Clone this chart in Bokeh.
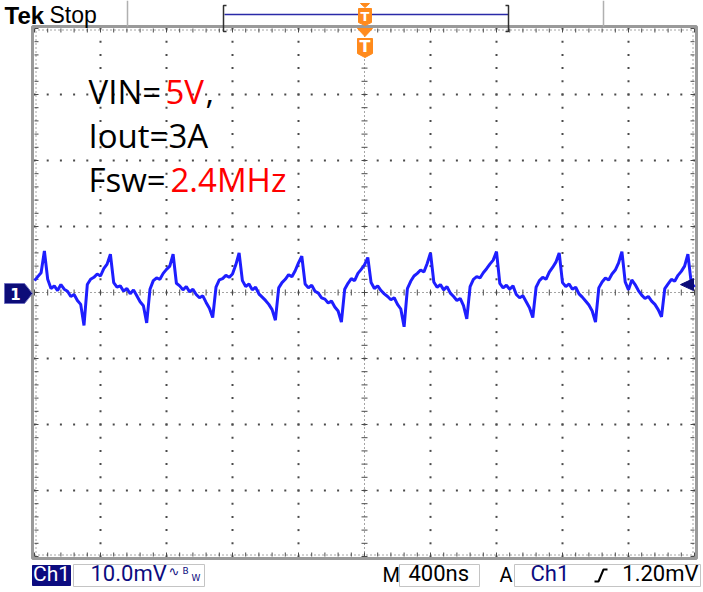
import numpy as np
from bokeh.plotting import figure
from bokeh.models import Range1d
from bokeh.core.properties import value
from bokeh.embed import file_html
from bokeh.resources import INLINE

# ---------------- data ----------------
sample_step_ns = 20
ch1_mv = [
    1.8, 2.4, 3.0, 6.3, 2.0, 0.6, 1.0, 0.3, 1.2, 0.5,
    0.2, -0.6, -0.3, -1.2, -1.8, -5.0, 1.2, 2.0, 2.3, 2.8,
    2.5, 3.6, 4.3, 5.8, 1.5, 0.8, 1.0, 0.2, 0.6, -0.2,
    0.4, -0.5, -1.4, -2.0, -4.6, 0.5, 1.8, 2.2, 2.0, 2.9,
    3.5, 4.0, 5.8, 1.4, 1.0, 0.4, 0.9, 0.1, 0.5, -0.3,
    -0.8, -0.5, -1.5, -2.4, -3.8, 0.8, 1.9, 2.1, 2.6, 2.3,
    2.8, 4.2, 6.0, 1.8, 0.9, 1.3, 0.4, 0.8, -0.2, -0.7,
    -1.2, -1.8, -2.6, -4.2, 0.7, 1.5, 2.0, 2.7, 2.4, 3.3,
    4.5, 5.5, 1.3, 0.7, 1.1, 0.2, -0.1, -0.8, -1.0, -1.6,
    -1.3, -2.2, -2.8, -4.5, 0.5, 1.4, 2.1, 1.8, 2.9, 3.5,
    4.2, 5.3, 1.5, 0.6, 1.0, 0.3, -0.2, -0.6, -1.1, -0.8,
    -1.8, -2.5, -5.2, 0.6, 1.7, 2.5, 2.9, 3.4, 3.1, 4.4,
    6.0, 1.6, 0.8, 1.2, 0.4, 0.9, -0.1, -0.6, -1.2, -0.9,
    -2.0, -4.0, 0.9, 2.0, 2.4, 2.2, 3.0, 3.6, 4.3, 4.9,
    6.2, 1.4, 0.7, 1.1, 0.5, 1.0, -0.3, -0.8, -0.5, -1.4,
    -2.3, -3.8, 0.8, 1.8, 2.3, 2.0, 3.1, 3.8, 4.6, 6.0,
    1.5, 0.9, 1.3, 0.5, 0.8, -0.2, -0.7, -1.3, -1.9, -2.8,
    -4.5, 0.7, 1.6, 2.2, 1.9, 2.8, 3.4, 4.5, 6.2, 1.6,
    0.4, 1.9, 1.2, 0.3, -0.4, -0.9, -0.6, -1.3, -1.8, -2.6,
    -3.7, 0.6, 1.3, 2.0, 1.7, 2.6, 3.2, 4.0, 5.8, 1.5,
    0.8,
]
time_ns = np.arange(len(ch1_mv)) * sample_step_ns - 2000

x_div_ns = [-2000, -1600, -1200, -800, -400, 0, 400, 800, 1200, 1600, 2000]
y_div_mv = [-40, -30, -20, -10, 0, 10, 20, 30, 40]

ch_label = "Ch1"
scale_label = "10.0mV"
time_label = "400ns"
trig_label = "1.20mV"
trig_level_mv = 1.2

annot_vin = [("VIN=", "black"), ("5V", "red"), (",", "black")]
annot_iout = [("Iout=3A", "black")]
annot_fsw = [("Fsw=", "black"), ("2.4MHz", "red")]

# ---------------- geometry ----------------
W, H = 703, 592
GX0, GY0 = 34, 28          # graticule top-left on the page (px)
GW, GH = 660, 528          # graticule size (px)
T0, T1 = x_div_ns[0], x_div_ns[-1]
V0, V1 = y_div_mv[0], y_div_mv[-1]
sx = GW / (T1 - T0)        # px per ns
sy = GH / (V1 - V0)        # px per mV

p = figure(width=W, height=H, output_backend="svg", toolbar_location=None,
           x_range=Range1d(T0 - GX0 / sx, T0 + (W - GX0) / sx),
           y_range=Range1d(V1 - (H - GY0) / sy, V1 + GY0 / sy),
           min_border=0, x_axis_location=None, y_axis_location=None,
           background_fill_color="white", border_fill_color="white",
           outline_line_color=None)
p.xgrid.visible = False
p.ygrid.visible = False


def X(px):  # page pixel -> ns
    return T0 + (px - GX0) / sx


def Y(py):  # page pixel -> mV
    return V1 - (py - GY0) / sy


def txt(x, y, s, color, size, font="Roboto", style="normal", align="left", baseline="alphabetic"):
    if baseline == "alphabetic":
        y = y - 0.39 * size
    p.text(x=[X(x)], y=[Y(y)], text=[s], text_color=color, text_font=value(font),
           text_font_size=f"{size}px", text_font_style=style,
           text_align=align, text_baseline=baseline)


dot_col = "#4a4a4a"

# graticule dots on inner division lines (every 1/5 division)
fifth_t = np.arange(T0, T1 + 1, (x_div_ns[1] - x_div_ns[0]) / 5)
fifth_v = np.arange(V0, V1 + 0.01, (y_div_mv[1] - y_div_mv[0]) / 5)
gx, gy = [], []
for t in x_div_ns[1:-1]:
    if t == 0:
        continue
    gx += [t] * len(fifth_v)
    gy += list(fifth_v)
for v in y_div_mv[1:-1]:
    if v == 0:
        continue
    gx += list(fifth_t)
    gy += [v] * len(fifth_t)
p.scatter(gx, gy, marker="square", size=2, fill_color=dot_col, line_color=None)

# center cross: fine dotted lines with tick marks
p.line([0, 0], [V0, V1], line_color=dot_col, line_width=1, line_dash="1 3")
p.line([T0, T1], [0, 0], line_color=dot_col, line_width=1, line_dash="1 3")
tl = 3
p.segment(x0=list(fifth_t), y0=[-tl / sy] * len(fifth_t), x1=list(fifth_t), y1=[tl / sy] * len(fifth_t),
          line_color=dot_col, line_width=1)
p.segment(x0=[-tl / sx] * len(fifth_v), y0=list(fifth_v), x1=[tl / sx] * len(fifth_v), y1=list(fifth_v),
          line_color=dot_col, line_width=1)

# ruler along the edges
el = 4
ex0 = list(fifth_t) + list(fifth_t) + [T0] * len(fifth_v) + [T1] * len(fifth_v)
ey0 = [V1] * len(fifth_t) + [V0] * len(fifth_t) + list(fifth_v) + list(fifth_v)
ex1 = list(fifth_t) + list(fifth_t) + [T0 + el / sx] * len(fifth_v) + [T1 - el / sx] * len(fifth_v)
ey1 = [V1 - el / sy] * len(fifth_t) + [V0 + el / sy] * len(fifth_t) + list(fifth_v) + list(fifth_v)
p.segment(x0=ex0, y0=ey0, x1=ex1, y1=ey1, line_color=dot_col, line_width=1)
p.line([T0, T1], [V1 - 1.5 / sy] * 2, line_color=dot_col, line_width=1, line_dash="1 3")
p.line([T0, T1], [V0 + 1.5 / sy] * 2, line_color=dot_col, line_width=1, line_dash="1 3")
p.line([T0 + 1.5 / sx] * 2, [V0, V1], line_color=dot_col, line_width=1, line_dash="1 3")
p.line([T1 - 1.5 / sx] * 2, [V0, V1], line_color=dot_col, line_width=1, line_dash="1 3")

# gray frame
p.quad(left=[T0 - 2 / sx], right=[T1 + 2 / sx], top=[V1 + 2 / sy], bottom=[V0 - 2 / sy],
       fill_color=None, line_color="#9a9a9a", line_width=3)

# waveform
p.line(time_ns, ch1_mv, line_color="#1e1eff", line_width=3)

# channel 1 marker
p.patch([X(4), X(24), X(32), X(24), X(4)], [Y(283), Y(283), Y(293), Y(303), Y(303)],
        fill_color="#0c0c78", line_color="#7070c0", line_width=1)
txt(15, 293, "1", "white", 15, font="DejaVu Sans", style="bold", align="center", baseline="middle")

# trigger level arrow (right edge)
p.patch([X(680), X(693), X(693)], [trig_level_mv, trig_level_mv + 6 / sy, trig_level_mv - 6 / sy],
        fill_color="#0c0c78", line_color="#0c0c78")

# trigger position marker inside graticule
orange = "#ff8a1c"
p.patch([X(357), X(372), X(364.5)], [Y(28), Y(28), Y(36)], fill_color=orange, line_color=orange)
p.patch([X(357), X(372), X(372), X(364.5), X(357)], [Y(38), Y(38), Y(53), Y(57), Y(53)],
        fill_color=orange, line_color=orange)
txt(364.5, 46, "T", "white", 16, font="DejaVu Sans", style="bold", align="center", baseline="middle")

# top bar
txt(4, 24, "Tek", "black", 24, font="Liberation Sans", style="bold")
txt(49, 23, "Stop", "black", 23, font="Liberation Sans")
p.segment(x0=[X(127), X(603)], y0=[Y(0), Y(0)], x1=[X(127), X(603)], y1=[Y(26), Y(26)],
          line_color="#b0b0b0", line_width=1.5)
p.segment(x0=[X(224)], y0=[Y(14)], x1=[X(508)], y1=[Y(14)], line_color="#2a2aa8", line_width=1.5)
br = "#303030"
p.multi_line([[X(226), X(223), X(223), X(226)], [X(505), X(508), X(508), X(505)]],
             [[Y(5), Y(5), Y(31), Y(31)], [Y(5), Y(5), Y(31), Y(31)]], line_color=br, line_width=1.5)
p.patch([X(360), X(369), X(364.5)], [Y(3), Y(3), Y(7)], fill_color=orange, line_color=orange)
p.patch([X(358), X(371), X(371), X(364.5), X(358)], [Y(8), Y(8), Y(22), Y(25), Y(22)],
        fill_color=orange, line_color=orange)
txt(364.5, 16, "T", "white", 13, font="DejaVu Sans", style="bold", align="center", baseline="middle")

# annotations
txt(88, 104, annot_vin[0][0], annot_vin[0][1], 33, font="Open Sans")
txt(165, 104, annot_vin[1][0], annot_vin[1][1], 33, font="Open Sans")
txt(205, 104, annot_vin[2][0], annot_vin[2][1], 33, font="Open Sans")
txt(88, 148, annot_iout[0][0], annot_iout[0][1], 33, font="Open Sans")
txt(88, 192, annot_fsw[0][0], annot_fsw[0][1], 33, font="Open Sans")
txt(170, 192, annot_fsw[1][0], annot_fsw[1][1], 33, font="Open Sans")

# status bar
navy = "#0c0c80"
p.quad(left=[X(32)], right=[X(70)], top=[Y(565)], bottom=[Y(585)], fill_color=navy, line_color=navy)
txt(51, 582, ch_label, "white", 21, align="center")
box_col = "#c4c4c4"
p.quad(left=[X(73), X(399), X(514)], right=[X(204), X(479), X(700)],
       top=[Y(564)] * 3, bottom=[Y(586)] * 3, fill_color=None, line_color=box_col, line_width=1)
txt(90, 582, scale_label, navy, 22)
txt(168, 576, "\u223f", navy, 13, font="DejaVu Sans")
txt(182, 574, "B", navy, 9, font="DejaVu Sans")
txt(191, 581, "W", navy, 9, font="DejaVu Sans")
txt(382, 582, "M", "black", 20)
txt(408, 582, time_label, "black", 22)
txt(499, 582, "A", "black", 20)
txt(530, 582, ch_label, navy, 22)
p.line([X(594), X(598), X(603), X(607)], [Y(581), Y(581), Y(569), Y(569)], line_color="black", line_width=2)
txt(698, 582, trig_label, "black", 22, align="right")

open("out.html", "w").write(file_html(p, INLINE))
